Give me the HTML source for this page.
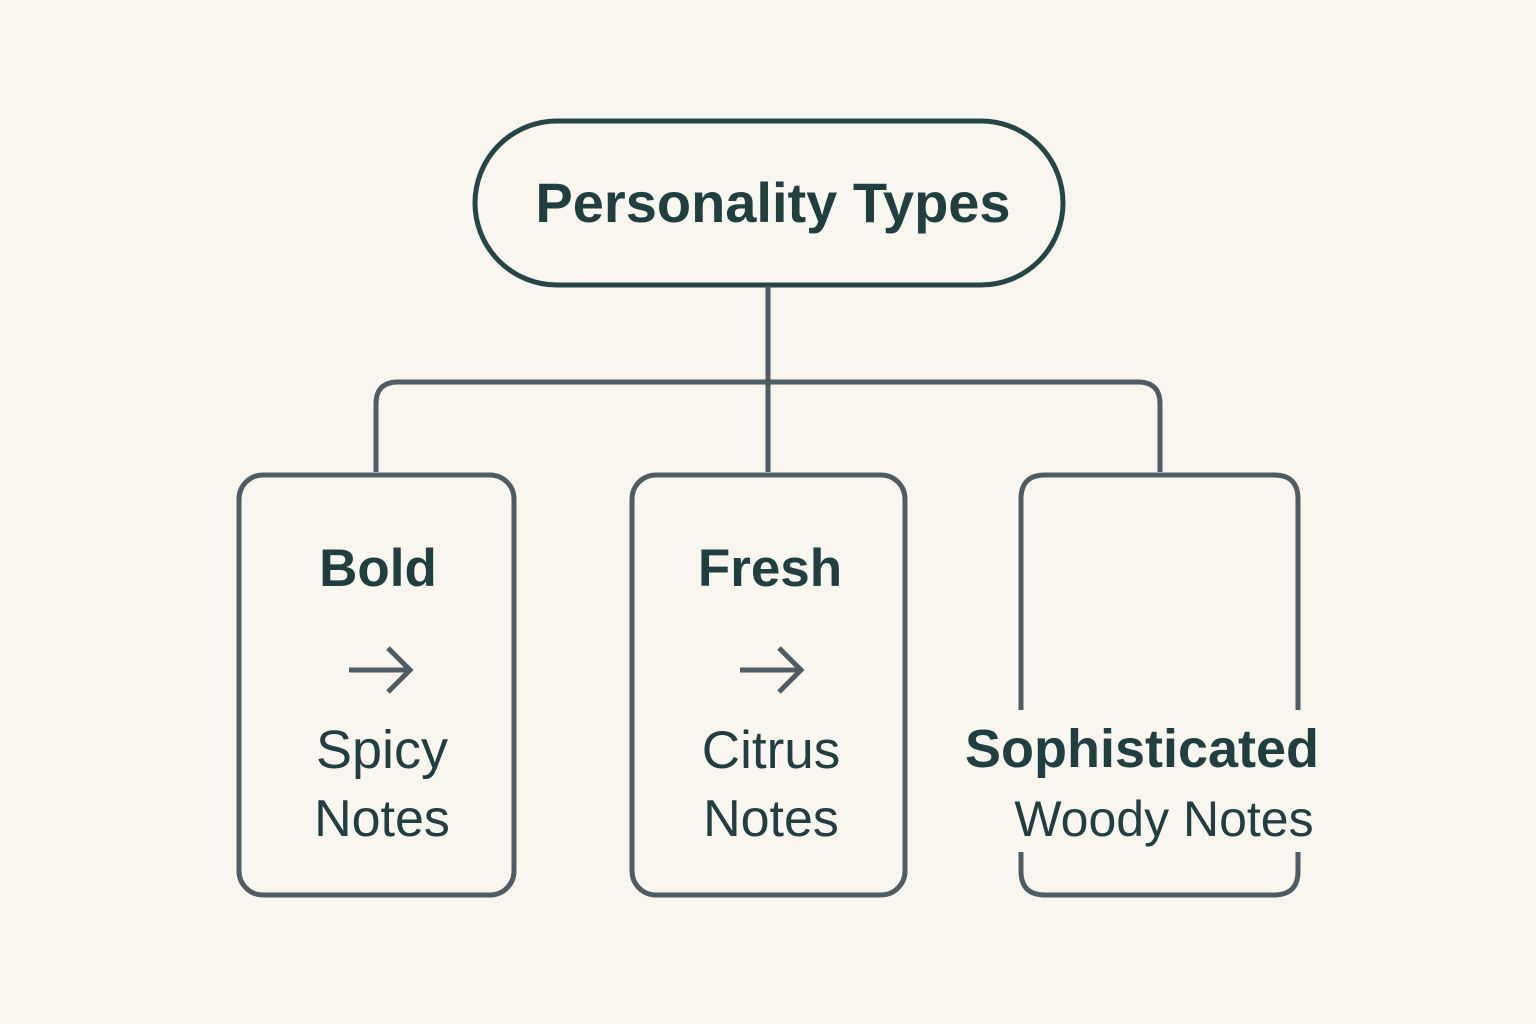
<!DOCTYPE html>
<html><head><meta charset="utf-8"><style>
html,body{margin:0;padding:0;background:#f9f6f0;}
svg{display:block}
text{font-family:"Liberation Sans",sans-serif;fill:#213f41;text-anchor:middle}
</style></head><body>
<svg width="1536" height="1024" viewBox="0 0 1536 1024">
<rect width="1536" height="1024" fill="#f9f6f0"/>
<rect x="475" y="121" width="588" height="164" rx="82" fill="none" stroke="#254647" stroke-width="5"/>
<g fill="none" stroke="#4f5c63" stroke-width="5">
<line x1="768" y1="286" x2="768" y2="472"/>
<path d="M376 472 V404 Q376 382 398 382 H1138 Q1160 382 1160 404 V472"/>
<rect x="239" y="475" width="275" height="420" rx="24"/>
<rect x="632" y="475" width="273" height="420" rx="24"/>
<path d="M1021 710 V499 Q1021 475 1045 475 H1274 Q1298 475 1298 499 V710"/>
<path d="M1021 852 V871 Q1021 895 1045 895 H1274 Q1298 895 1298 871 V852"/>
<path d="M349 670 H410 M388 648 L410 670 L388 692"/>
<path d="M740 670 H801 M779 648 L801 670 L779 692"/>
</g>
<text x="773" y="222" font-size="56" font-weight="bold">Personality Types</text>
<text x="378" y="586" font-size="53" font-weight="bold">Bold</text>
<text x="770" y="586" font-size="53" font-weight="bold">Fresh</text>
<text x="382" y="768" font-size="54">Spicy</text>
<text x="382" y="836" font-size="52">Notes</text>
<text x="771" y="768" font-size="53">Citrus</text>
<text x="771" y="836" font-size="52">Notes</text>
<text x="1142" y="767" font-size="54" font-weight="bold">Sophisticated</text>
<text x="1164" y="836" font-size="50">Woody Notes</text>
</svg>
</body></html>
